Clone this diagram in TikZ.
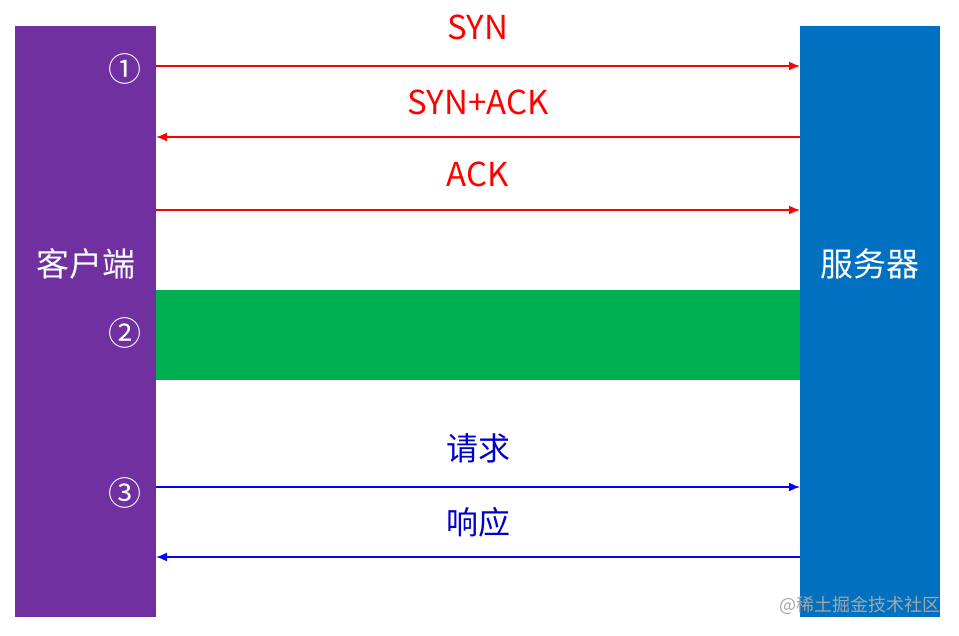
\documentclass[tikz,border=0pt]{standalone}
\usepackage{fontspec}
\setmainfont{Noto Sans CJK SC}
\usetikzlibrary{arrows.meta}
\definecolor{cpurple}{HTML}{7030A0}
\definecolor{cblue}{HTML}{0070C0}
\definecolor{cgreen}{HTML}{00B050}
\definecolor{cred}{HTML}{FF0000}
\definecolor{carrowblue}{HTML}{0000FF}
\tikzset{
  redarrow/.style={draw=cred, line width=1.6pt, -{Latex[length=11pt,width=9pt]}},
  bluearrow/.style={draw=carrowblue, line width=1.6pt, -{Latex[length=11pt,width=9pt]}},
  redlabel/.style={text=cred, font=\fontsize{33}{36}\selectfont, inner sep=0pt},
  bluelabel/.style={text=carrowblue!80!black, font=\fontsize{32}{35}\selectfont, inner sep=0pt},
  sidelabel/.style={text=white, font=\fontsize{33}{36}\selectfont, inner sep=0pt},
  numlabel/.style={text=white, font=\fontsize{33}{36}\selectfont, inner sep=0pt},
}
\begin{document}
\begin{tikzpicture}[x=1pt,y=-1pt]
\useasboundingbox (0,0) rectangle (959,636);
\fill[white] (0,0) rectangle (959,636);
% bars
\fill[cpurple] (15,26) rectangle (156,617);
\fill[cblue] (800,26) rectangle (940,617);
\fill[cgreen] (156,290) rectangle (800,380);
\coordinate (cl1) at (156,66); \coordinate (sr1) at (800,66);
\coordinate (cl2) at (156,137); \coordinate (sr2) at (800,137);
\coordinate (cl3) at (156,210); \coordinate (sr3) at (800,210);
\coordinate (cl4) at (156,487); \coordinate (sr4) at (800,487);
\coordinate (cl5) at (156,557); \coordinate (sr5) at (800,557);
% labels
\node[sidelabel] (client) at (86,264) {客户端};
\node[sidelabel] (server) at (870,264) {服务器};
\node[numlabel] (n1) at (125,69) {①};
\node[numlabel] (n2) at (125,333) {②};
\node[numlabel] (n3) at (125,493) {③};
% arrows
\draw[redarrow] (cl1) -- (sr1);
\draw[redarrow] (sr2) -- (cl2);
\draw[redarrow] (cl3) -- (sr3);
\draw[bluearrow] (cl4) -- (sr4);
\draw[bluearrow] (sr5) -- (cl5);
\node[redlabel] (syn) at (478,27) {SYN};
\node[redlabel] (synack) at (478,102) {SYN+ACK};
\node[redlabel] (ack) at (478,174) {ACK};
\node[bluelabel] (req) at (478,448) {请求};
\node[bluelabel] (resp) at (478,522) {响应};
\node[text=gray!70, font=\fontsize{18}{20}\selectfont, inner sep=0pt] (wm) at (860,605) {@稀土掘金技术社区};
\end{tikzpicture}
\end{document}
